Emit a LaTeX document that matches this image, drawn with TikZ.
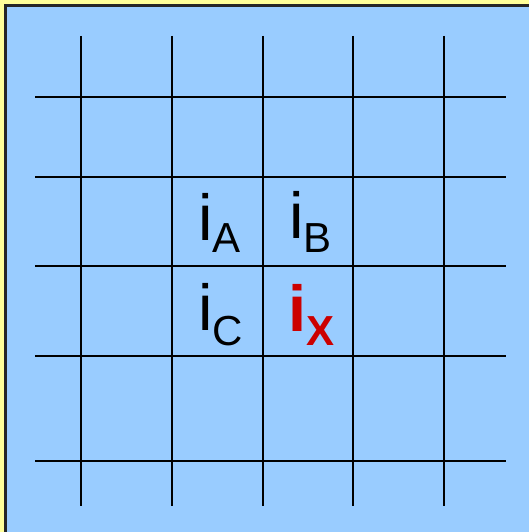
\documentclass[tikz,border=0pt]{standalone}
\usepackage{fontspec}
\setmainfont{Liberation Sans}
\definecolor{bgyellow}{HTML}{FFFF99}
\definecolor{bgblue}{HTML}{99CCFF}
\definecolor{ired}{HTML}{CC0000}
\tikzset{
  gridline/.style={line width=2pt, black},
  lbl/.style={anchor=base west, inner sep=0pt, outer sep=0pt},
}
\newcommand{\mainsz}{\fontsize{65}{65}\selectfont}
\newcommand{\subsz}{\fontsize{42}{42}\selectfont}
\begin{document}
\begin{tikzpicture}[x=1pt,y=-1pt]
\useasboundingbox (0,0) rectangle (529,532);
\clip (0,0) rectangle (529,532);
\fill[bgyellow] (0,0) rectangle (529,532);
\filldraw[fill=bgblue, draw=black!85, line width=3pt] (5.5,5.5) rectangle (560,560);
% vertical lines
\foreach \x in {81,172,263,353,444} {
  \draw[gridline] (\x,36) -- (\x,506);
}
% horizontal lines
\foreach \y in {97,177,266,356,461} {
  \draw[gridline] (35,\y) -- (506,\y);
}
\node[lbl] (iA) at (198,240) {\mainsz i\raisebox{-12pt}{\subsz A}};
\node[lbl] (iB) at (289,238) {\mainsz i\raisebox{-14pt}{\subsz B}};
\node[lbl] (iC) at (198,330) {\mainsz i\raisebox{-15pt}{\subsz C}};
\node[lbl, text=ired] (iX) at (288,331) {\mainsz\bfseries i\raisebox{-14pt}{\subsz\bfseries X}};
\end{tikzpicture}
\end{document}
